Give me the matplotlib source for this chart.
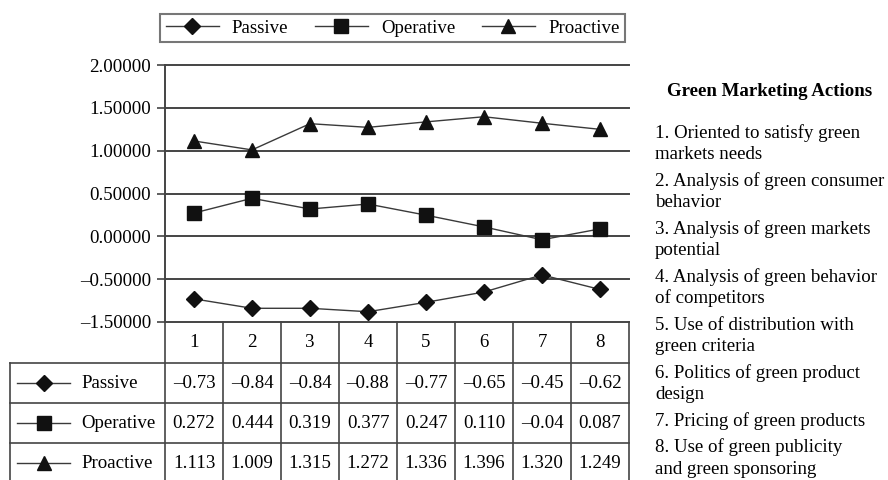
import matplotlib
matplotlib.use("Agg")
import matplotlib.pyplot as plt
import matplotlib.transforms as mtransforms
from matplotlib.lines import Line2D

plt.rcParams["font.family"] = ["Liberation Serif", "DejaVu Serif"]

# ---------------- data ----------------
actions = [1, 2, 3, 4, 5, 6, 7, 8]
series_names = ["Passive", "Operative", "Proactive"]
passive = [-0.73, -0.84, -0.84, -0.88, -0.77, -0.65, -0.45, -0.62]
operative = [0.272, 0.444, 0.319, 0.377, 0.247, 0.110, -0.04, 0.087]
proactive = [1.113, 1.009, 1.315, 1.272, 1.336, 1.396, 1.320, 1.249]
passive_txt = ["\u20130.73", "\u20130.84", "\u20130.84", "\u20130.88",
               "\u20130.77", "\u20130.65", "\u20130.45", "\u20130.62"]
operative_txt = ["0.272", "0.444", "0.319", "0.377", "0.247", "0.110",
                 "\u20130.04", "0.087"]
proactive_txt = ["1.113", "1.009", "1.315", "1.272", "1.336", "1.396",
                 "1.320", "1.249"]
ytick_vals = [2.0, 1.5, 1.0, 0.5, 0.0, -0.5, -1.0]
ytick_labels = ["2.00000", "1.50000", "1.00000", "0.50000", "0.00000",
                "\u20130.50000", "\u20131.50000"]
side_title = "Green Marketing Actions"
side_items = [
    ["1. Oriented to satisfy green", "markets needs"],
    ["2. Analysis of green consumer", "behavior"],
    ["3. Analysis of green markets", "potential"],
    ["4. Analysis of green behavior", "of competitors"],
    ["5. Use of distribution with", "green criteria"],
    ["6. Politics of green product", "design"],
    ["7. Pricing of green products"],
    ["8. Use of green publicity", "and green sponsoring"],
]

# ---------------- figure ----------------
W, H = 888, 480
fig = plt.figure(figsize=(W / 100, H / 100), dpi=100)
ax_l, ax_r, ax_t, ax_b = 165, 629, 65, 322
ax = fig.add_axes([ax_l / W, 1 - ax_b / H, (ax_r - ax_l) / W, (ax_b - ax_t) / H])
ax.set_xlim(0.5, 8.5)
ax.set_ylim(-1, 2)

FS = 13.6
line_col = "#3a3a3a"
grid_col = "#444444"
markers = ["D", "s", "^"]
msizes = [8, 9.5, 10.5]
data = [passive, operative, proactive]

for y in ytick_vals:
    ax.axhline(y, color=grid_col, lw=1.4, clip_on=False, zorder=1)

handles = []
for vals, m, ms, name in zip(data, markers, msizes, series_names):
    h, = ax.plot(actions, vals, color=line_col, lw=1.0, marker=m, ms=ms,
                 mfc="#111111", mec="#111111", label=name, zorder=3)
    handles.append(h)

for s in ["top", "right", "bottom"]:
    ax.spines[s].set_visible(False)
ax.spines["left"].set_color(grid_col)
ax.spines["left"].set_linewidth(1.4)
ax.set_xticks([])
ax.set_yticks(ytick_vals, ytick_labels)
ax.tick_params(axis="y", length=6, width=1.2, color=grid_col, pad=4,
               labelsize=FS, direction="out")

# ---------------- table ----------------
trans = mtransforms.blended_transform_factory(ax.transData, ax.transAxes)
axh = ax_b - ax_t
px_per_x = (ax_r - ax_l) / 8.0
hdr_h = 41 / axh
row_h = 40 / axh
x_left = 0.5 + (10 - ax_l) / px_per_x
x_right = 8.5
n_rows = 3
bottom = -(hdr_h + n_rows * row_h)
tkw = dict(color=grid_col, lw=1.2, transform=trans, clip_on=False)

# vertical lines
for i in range(len(actions) + 1):
    ax.add_line(Line2D([0.5 + i, 0.5 + i], [0, bottom], **tkw))
ax.add_line(Line2D([x_left, x_left], [-hdr_h, bottom], **tkw))
# horizontal lines
for r in range(n_rows + 1):
    y = -hdr_h - r * row_h
    ax.add_line(Line2D([x_left, x_right], [y, y], **tkw))

# header labels
for a in actions:
    ax.text(a, -hdr_h / 2, str(a), transform=trans, ha="center", va="center",
            fontsize=FS, clip_on=False)

row_texts = [passive_txt, operative_txt, proactive_txt]
sym_x0 = 0.5 + (17 - ax_l) / px_per_x
sym_x1 = 0.5 + (70 - ax_l) / px_per_x
sym_xm = 0.5 + (44 - ax_l) / px_per_x
lab_x = 0.5 + (81 - ax_l) / px_per_x
for r, (txts, m, ms, name) in enumerate(zip(row_texts, markers, msizes, series_names)):
    yc = -hdr_h - (r + 0.5) * row_h
    ax.add_line(Line2D([sym_x0, sym_x1], [yc, yc], color=line_col, lw=1.0,
                       transform=trans, clip_on=False))
    ax.add_line(Line2D([sym_xm], [yc], marker=m, ms=ms, mfc="#111111",
                       mec="#111111", lw=0, transform=trans, clip_on=False))
    ax.text(lab_x, yc, name, transform=trans, ha="left", va="center",
            fontsize=FS, clip_on=False)
    for a, t in zip(actions, txts):
        ax.text(a, yc, t, transform=trans, ha="center", va="center",
                fontsize=FS, clip_on=False)

# ---------------- legend ----------------
leg = fig.legend(handles, series_names, loc="center",
                 bbox_to_anchor=(160 / W, 1 - 46 / H, 465 / W, 36 / H),
                 bbox_transform=fig.transFigure, ncol=3, mode="expand",
                 frameon=True, fancybox=False, edgecolor="#555555",
                 handlelength=2.8, fontsize=FS, borderaxespad=0,
                 handletextpad=0.7, borderpad=0.3)
leg.get_frame().set_linewidth(1.5)

# ---------------- side notes ----------------
fig.text(770 / W, 1 - 92 / H, side_title, ha="center", va="center",
         fontsize=FS, fontweight="bold")
y = 133.0
for item in side_items:
    for j, line in enumerate(item):
        fig.text(655 / W, 1 - y / H, line, ha="left", va="center", fontsize=FS)
        y += 21.5
    y += 5.0

fig.savefig("out.png", dpi=100, facecolor="white")
